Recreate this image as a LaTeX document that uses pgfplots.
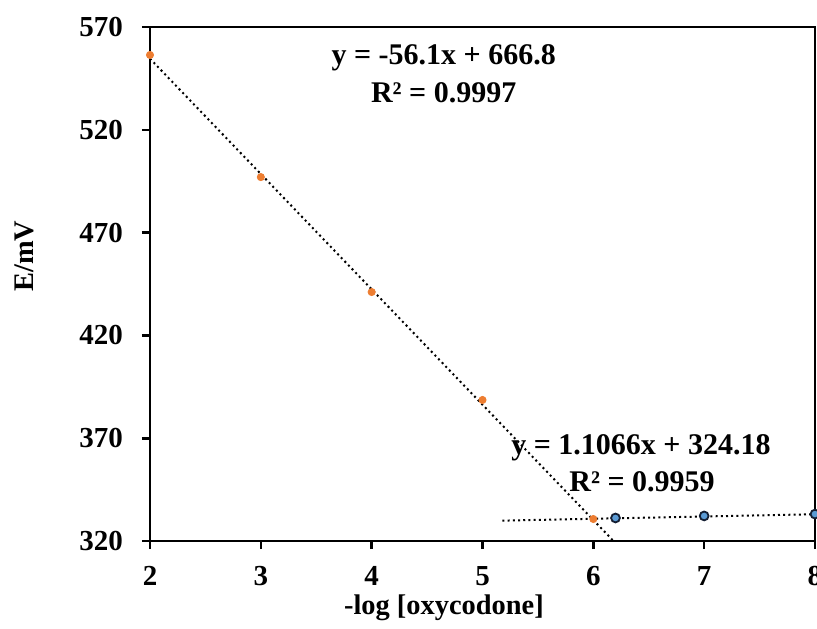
\documentclass[border=0pt]{standalone}
\usepackage{fontspec}
\setmainfont{Liberation Serif}
\usepackage{pgfplots}
\pgfplotsset{compat=1.18}
\definecolor{excelorange}{RGB}{237,125,49}
\definecolor{excelblue}{RGB}{91,155,213}
\definecolor{darkedge}{RGB}{20,30,50}

\begin{document}
\begin{tikzpicture}
\begin{axis}[
  scale only axis,
  width=332.5pt,
  height=257pt,
  xmin=2, xmax=8,
  ymin=320, ymax=570,
  xtick={2,3,4,5,6,7,8},
  ytick={320,370,420,470,520,570},
  tick align=outside,
  xtick pos=left,
  ytick pos=left,
  major tick length=4pt,
  tick style={black, line width=1.3pt},
  axis line style={black, line width=1.3pt},
  /pgf/number format/assume math mode=true,
  tick label style={font=\fontsize{14.5}{17}\selectfont\bfseries},
  xticklabel style={yshift=-5pt},
  yticklabel style={xshift=-6pt},
  label style={font=\fontsize{14.2}{17}\selectfont\bfseries},
  xlabel={-log [oxycodone]},
  ylabel={E/mV},
  xlabel style={at={(axis description cs:0.442,-0.130)}, anchor=center},
  ylabel style={at={(axis description cs:-0.189,0.554)}, anchor=center},
  clip=false,
]
% trend lines
\addplot[black, line width=1pt, dash pattern=on 1pt off 1.6pt] coordinates {(2,554.6) (6.182,320)};
\addplot[black, line width=1pt, dash pattern=on 1pt off 1.6pt] coordinates {(5.18,329.91) (8,333.03)};
% data
\addplot[only marks, mark=*, mark size=1.8pt, color=excelorange] coordinates {
  (2,556.4) (3,497.0) (4,441.1) (5,388.6) (6,330.7)
};
\addplot[only marks, mark=*, mark size=2.2pt, draw=darkedge, fill=excelblue, line width=0.9pt] coordinates {
  (6.2,331.2) (7,332.2) (8,333.1)
};
\node[font=\fontsize{15}{18}\selectfont\bfseries] at (axis cs:4.65,555.0) {y = -56.1x + 666.8};
\node[font=\fontsize{15}{18}\selectfont\bfseries] at (axis cs:4.65,538.0) {R² = 0.9997};
\node[font=\fontsize{15}{18}\selectfont\bfseries] at (axis cs:6.43,365.2) {y = 1.1066x + 324.18};
\node[font=\fontsize{15}{18}\selectfont\bfseries] at (axis cs:6.44,348.7) {R² = 0.9959};
\end{axis}
\pgfresetboundingbox
\path[use as bounding box] ([shift={(-75pt,-43.5pt)}]current axis.south west) rectangle ([shift={(1pt,13.5pt)}]current axis.north east);
\end{tikzpicture}
\end{document}
